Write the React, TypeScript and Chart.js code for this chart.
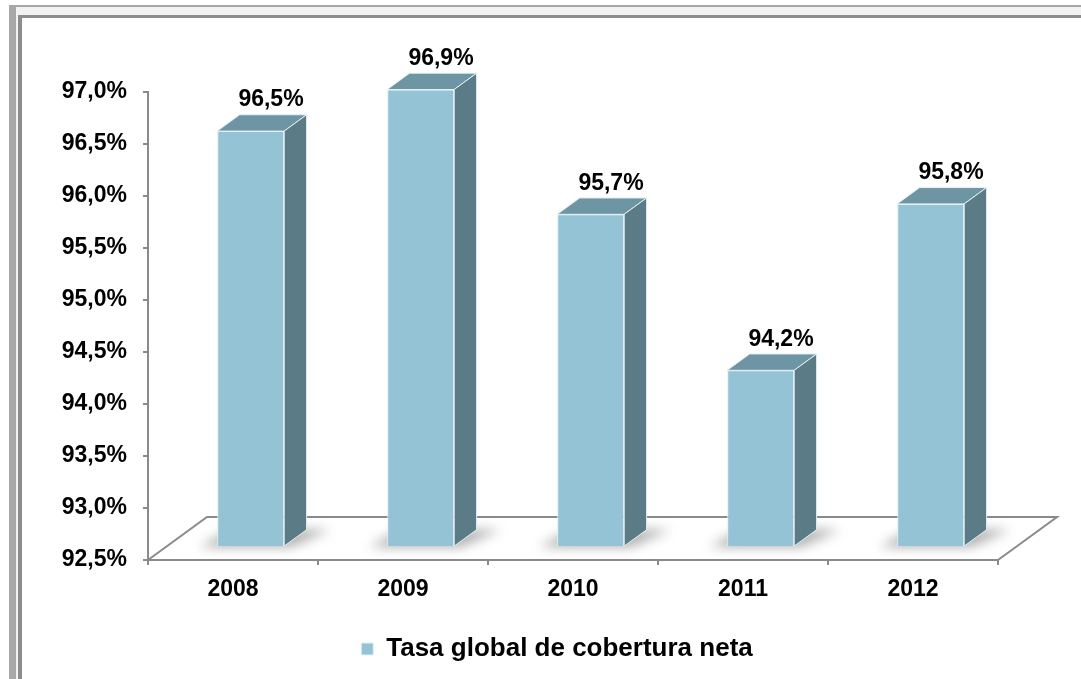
import { useEffect, useRef } from 'react';
import { Chart, registerables } from 'chart.js';

Chart.register(...registerables);

// ---- data ----
const categories: string[] = ['2008', '2009', '2010', '2011', '2012'];
const coverage: number[] = [96.5, 96.9, 95.7, 94.2, 95.8];
const seriesName = 'Tasa global de cobertura neta';
const yMin = 92.5;
const yMax = 97.0;
const yStep = 0.5;

// ---- style ----
const FONT = "'Liberation Sans', Arial, Helvetica, sans-serif";
const FRONT = '#93c3d4';
const TOP = '#6d95a3';
const SIDE = '#5b7b87';
const EDGE = '#e4f0f4';
const AXIS = '#8a8a8a';
const FLOOR_DX = 59;
const FLOOR_DY = -43;
const FRONT_F = 0.3;
const BACK_F = 0.68;

const fmt = (v: number) => v.toFixed(1).replace('.', ',') + '%';

const framePlugin = {
  id: 'frame',
  beforeDraw(chart: any) {
    const { ctx, width, height } = chart;
    ctx.save();
    ctx.fillStyle = '#ffffff';
    ctx.fillRect(0, 0, width, height);
    ctx.fillStyle = '#a8a8a8';
    ctx.fillRect(9, 5, width, height);
    ctx.fillStyle = '#f2f2f2';
    ctx.fillRect(16, 7, width, height);
    ctx.fillStyle = '#8c8c8c';
    ctx.fillRect(18, 15, width, height);
    ctx.fillStyle = '#ffffff';
    ctx.fillRect(22, 18, width, height);
    ctx.restore();
  },
};

const legendShift = {
  id: 'legendShift',
  afterLayout(chart: any) {
    const lg = chart.legend;
    if (lg) {
      lg.left = 116;
      lg.right = chart.chartArea.right;
    }
  },
};

const box3d = {
  id: 'box3d',
  beforeDatasetsDraw(chart: any) {
    const { ctx, chartArea } = chart;
    const { left, right, bottom } = chartArea;
    ctx.save();
    // floor
    ctx.strokeStyle = AXIS;
    ctx.lineWidth = 2;
    ctx.beginPath();
    ctx.moveTo(left, bottom);
    ctx.lineTo(left + FLOOR_DX, bottom + FLOOR_DY);
    ctx.lineTo(right + FLOOR_DX, bottom + FLOOR_DY);
    ctx.lineTo(right, bottom);
    ctx.stroke();
    // shadows
    const fx = FLOOR_DX * FRONT_F;
    const fy = FLOOR_DY * FRONT_F;
    const bdx = FLOOR_DX * (BACK_F - FRONT_F);
    const bdy = FLOOR_DY * (BACK_F - FRONT_F);
    const meta = chart.getDatasetMeta(0);
    ctx.filter = 'blur(6px)';
    ctx.fillStyle = 'rgba(0,0,0,0.32)';
    meta.data.forEach((el: any) => {
      const { x, base, width } = el.getProps(['x', 'base', 'width'], true);
      const L = x - width / 2 + fx;
      const R = x + width / 2 + fx;
      const B = base + fy;
      ctx.beginPath();
      ctx.moveTo(L - 18, B + 1);
      ctx.lineTo(R + 6, B + 1);
      ctx.lineTo(R + bdx + 24, B + bdy);
      ctx.lineTo(L + bdx - 8, B + bdy);
      ctx.closePath();
      ctx.fill();
    });
    ctx.filter = 'none';
    ctx.restore();
    ctx.save();
    ctx.translate(fx, fy);
  },
  afterDatasetsDraw(chart: any) {
    const { ctx } = chart;
    const bdx = FLOOR_DX * (BACK_F - FRONT_F);
    const bdy = FLOOR_DY * (BACK_F - FRONT_F);
    const meta = chart.getDatasetMeta(0);
    ctx.lineWidth = 1;
    ctx.strokeStyle = EDGE;
    ctx.lineJoin = 'round';
    meta.data.forEach((el: any) => {
      const { x, y, base, width } = el.getProps(['x', 'y', 'base', 'width'], true);
      const L = x - width / 2;
      const R = x + width / 2;
      // top
      ctx.beginPath();
      ctx.moveTo(L, y);
      ctx.lineTo(R, y);
      ctx.lineTo(R + bdx, y + bdy);
      ctx.lineTo(L + bdx, y + bdy);
      ctx.closePath();
      ctx.fillStyle = TOP;
      ctx.fill();
      ctx.stroke();
      // side
      ctx.beginPath();
      ctx.moveTo(R, y);
      ctx.lineTo(R + bdx, y + bdy);
      ctx.lineTo(R + bdx, base + bdy);
      ctx.lineTo(R, base);
      ctx.closePath();
      ctx.fillStyle = SIDE;
      ctx.fill();
      ctx.stroke();
    });
    ctx.restore();
    // value labels
    ctx.save();
    ctx.font = `bold 23px ${FONT}`;
    ctx.fillStyle = '#000000';
    ctx.textAlign = 'center';
    ctx.textBaseline = 'middle';
    const ds = chart.data.datasets[0];
    meta.data.forEach((el: any, i: number) => {
      const { x, y } = el.getProps(['x', 'y'], true);
      ctx.fillText(fmt(ds.data[i] as number), x + 38, y - 44);
    });
    ctx.restore();
  },
};

export default function App() {
  const ref = useRef<HTMLCanvasElement | null>(null);
  useEffect(() => {
    if (!ref.current) return;
    const chart = new Chart(ref.current, {
      type: 'bar',
      data: {
        labels: categories,
        datasets: [
          {
            label: seriesName,
            data: coverage,
            base: yMin,
            backgroundColor: FRONT,
            borderColor: EDGE,
            borderWidth: 1,
            barPercentage: 1,
            categoryPercentage: 0.394,
            clip: false as any,
          } as any,
        ],
      },
      options: {
        animation: false,
        responsive: false,
        maintainAspectRatio: false,
        layout: { padding: { left: 0, top: 92, right: 83, bottom: 7 } },
        scales: {
          x: {
            grid: {
              drawOnChartArea: false,
              drawTicks: true,
              tickLength: 5,
              color: AXIS,
              lineWidth: 2,
            },
            border: { display: true, color: AXIS, width: 2 },
            ticks: {
              padding: 11,
              color: '#000000',
              font: { family: FONT, size: 23, weight: 'bold' },
            },
            afterFit: (s: any) => {
              s.height = 66;
            },
          },
          y: {
            min: yMin,
            max: yMax,
            grid: {
              drawOnChartArea: false,
              drawTicks: true,
              tickLength: 5,
              color: AXIS,
              lineWidth: 2,
            },
            border: { display: true, color: AXIS, width: 2 },
            ticks: {
              stepSize: yStep,
              padding: 16,
              color: '#000000',
              font: { family: FONT, size: 23, weight: 'bold' },
              callback: (v: any) => fmt(Number(v)),
            },
            afterFit: (s: any) => {
              s.width = 148;
            },
          },
        },
        plugins: {
          legend: {
            position: 'bottom',
            labels: {
              boxWidth: 12,
              boxHeight: 12,
              padding: 10,
              color: '#000000',
              font: { family: FONT, size: 26, weight: 'bold' },
            },
          },
          tooltip: { enabled: false },
        },
      },
      plugins: [framePlugin, legendShift, box3d],
    });
    return () => chart.destroy();
  }, []);
  return (
    <div style={{ position: 'fixed', left: 0, top: 0, width: 1081, height: 679 }}>
      <canvas ref={ref} width={1081} height={679} style={{ display: 'block' }} />
    </div>
  );
}
